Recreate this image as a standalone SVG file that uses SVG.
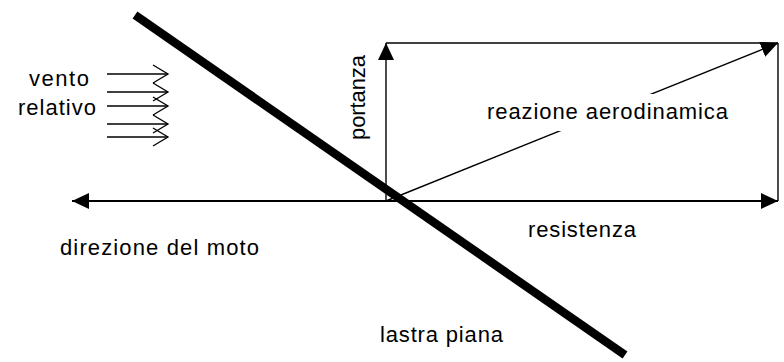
<svg xmlns="http://www.w3.org/2000/svg" width="784" height="362" viewBox="0 0 784 362">
<style>
  .lbl { font-family: "Liberation Sans", Arial, Helvetica, sans-serif; font-size: 22px; fill: #000; }
  .ln { stroke: #000; stroke-width: 1.4; fill: none; }
  .wind { stroke: #000; stroke-width: 1.3; fill: none; marker-end: url(#chev); }
</style>
<defs>
  <marker id="arr" markerUnits="userSpaceOnUse" markerWidth="18" markerHeight="17" refX="17" refY="8" orient="auto-start-reverse">
    <path d="M0,0 L17,8 L0,16 z" fill="#000"/>
  </marker>
  <marker id="chev" markerUnits="userSpaceOnUse" markerWidth="18" markerHeight="22" refX="16" refY="10" orient="auto">
    <path d="M1,1 L16,10 L1,19" fill="none" stroke="#000" stroke-width="1.3"/>
  </marker>
</defs>

<g id="wind">
  <line class="wind" x1="107" y1="74" x2="168" y2="74"/>
  <line class="wind" x1="107" y1="92" x2="168" y2="92"/>
  <line class="wind" x1="107" y1="106" x2="168" y2="106"/>
  <line class="wind" x1="107" y1="124" x2="168" y2="124"/>
  <line class="wind" x1="107" y1="137" x2="168" y2="137"/>
</g>

<g id="connectors">
  <line id="direzione" x1="72" y1="201" x2="778" y2="201" stroke="#000" stroke-width="2" marker-start="url(#arr)" marker-end="url(#arr)"/>
  <line id="portanza-vec" class="ln" x1="386" y1="201" x2="386" y2="43" marker-end="url(#arr)"/>
  <line id="top-edge" class="ln" x1="386" y1="43" x2="778" y2="43"/>
  <line id="right-edge" class="ln" x1="778" y1="43" x2="778" y2="201"/>
  <line id="reazione-vec" class="ln" x1="386" y1="201" x2="778" y2="43" marker-end="url(#arr)"/>
</g>

<g id="label-reazione">
  <rect x="484" y="94" width="252" height="37" fill="#fff"/>
  <text class="lbl" x="487" y="119" textLength="241" lengthAdjust="spacing">reazione aerodinamica</text>
</g>
<g id="label-vento">
  <text class="lbl" x="29" y="86" textLength="60" lengthAdjust="spacing">vento</text>
  <text class="lbl" x="18" y="115" textLength="78" lengthAdjust="spacing">relativo</text>
</g>
<g id="label-portanza">
  <text class="lbl" transform="translate(365,140) rotate(-90)" textLength="85" lengthAdjust="spacing">portanza</text>
</g>
<g id="label-resistenza">
  <text class="lbl" x="528" y="237" textLength="108" lengthAdjust="spacing">resistenza</text>
</g>
<g id="label-direzione">
  <text class="lbl" x="60" y="255" textLength="199" lengthAdjust="spacing">direzione del moto</text>
</g>
<g id="label-lastra">
  <text class="lbl" x="380" y="342" textLength="123" lengthAdjust="spacing">lastra piana</text>
</g>

<g id="plate">
  <line x1="135" y1="15" x2="625" y2="355" stroke="#000" stroke-width="8.5"/>
</g>
</svg>
